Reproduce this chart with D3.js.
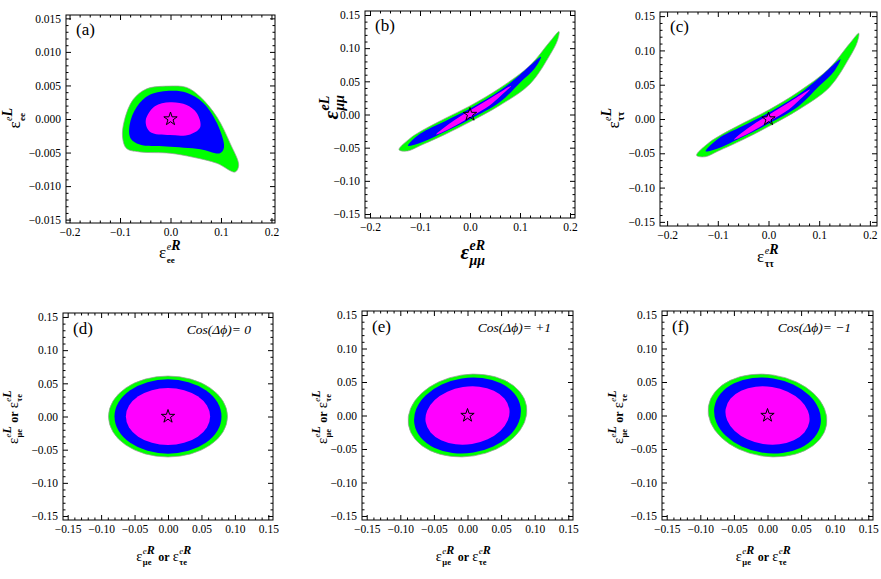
<!DOCTYPE html>
<html>
<head>
<meta charset="utf-8">
<script src="https://cdn.jsdelivr.net/npm/d3@7"></script>
<style>
  body { margin: 0; background: #fff; }
  svg { display: block; }
  text { font-family: "Liberation Serif", "Times New Roman", Times, serif; fill: #000; }
</style>
</head>
<body>
<svg id="chart" width="881" height="579"></svg>
<script>
// ---- tick values
const ticksTopX = [-0.2, -0.1, 0, 0.1, 0.2];
const ticksAy = [-0.015, -0.01, -0.005, 0, 0.005, 0.01, 0.015];
const ticksBCy = [-0.15, -0.1, -0.05, 0, 0.05, 0.1, 0.15];
const ticksBottom = [-0.15, -0.1, -0.05, 0, 0.05, 0.1, 0.15];

// ---- contour outlines (eR, eL) for the diagonal couplings
const aGreen = [[-0.004, 0.0049], [-0.047, 0.0045], [-0.074, 0.0029], [-0.091, -0.0001], [-0.095, -0.0027],
  [-0.087, -0.0044], [-0.061, -0.0049], [-0.001, -0.0051], [0.045, -0.0057], [0.092, -0.0066],
  [0.128, -0.0079], [0.135, -0.0069], [0.118, -0.0036], [0.092, 0.0003], [0.059, 0.0033], [0.032, 0.0047]];
const aBlue = [[0.002, 0.0042], [-0.041, 0.0036], [-0.067, 0.0018], [-0.081, -0.0009], [-0.079, -0.0029],
  [-0.061, -0.0038], [-0.008, -0.0041], [0.059, -0.0045], [0.098, -0.0051], [0.106, -0.0042],
  [0.092, -0.0006], [0.065, 0.0024], [0.032, 0.0039]];
const aMagenta = [[-0.001, 0.0025], [-0.031, 0.0019], [-0.049, -0.0002], [-0.041, -0.0019], [-0.001, -0.0024],
  [0.039, -0.0023], [0.059, -0.0012], [0.052, 0.0009], [0.032, 0.0021]];

// (b) and (c) look the same in the picture
const bGreen = [[-0.142, -0.053], [-0.12, -0.036], [-0.10, -0.026], [-0.05, -0.006], [0, 0.013], [0.06, 0.040],
  [0.12, 0.074], [0.16, 0.110], [0.178, 0.125], [0.175, 0.112], [0.16, 0.090], [0.12, 0.046],
  [0.06, 0.014], [0, -0.011], [-0.05, -0.030], [-0.10, -0.047], [-0.125, -0.055]];
const bBlue = [[-0.124, -0.047], [-0.10, -0.029], [-0.05, -0.010], [0, 0.009], [0.06, 0.036], [0.10, 0.060],
  [0.142, 0.087], [0.13, 0.070], [0.10, 0.048], [0.06, 0.019], [0, -0.007], [-0.05, -0.026], [-0.10, -0.043]];
const bMagenta = [[-0.068, -0.030], [-0.04, -0.013], [0, 0.006], [0.04, 0.024], [0.082, 0.043],
  [0.06, 0.027], [0.04, 0.014], [0, -0.004], [-0.04, -0.021]];

// ---- off-diagonal couplings: ellipse semi-axes (eR, eL) and tilt
const ellipseRx = [0.089, 0.080, 0.063];
const ellipseRy = [0.061, 0.056, 0.043];
const ellipseTilt = [0, 9, -9];
const cosLabels = ["Cos(\u0394\u03d5)= 0", "Cos(\u0394\u03d5)= +1", "Cos(\u0394\u03d5)= \u22121"];
const panelNames = ["(a)", "(b)", "(c)", "(d)", "(e)", "(f)"];

const fills = ["#00ff00", "#0000ff", "#ff00ff"];

const svg = d3.select("#chart");

// label pieces: plain {t,size,bold,italic} or {sup:[...], sub:[...]}
function seg(t, size, bold, italic) { return { t, size, bold, italic }; }
const lblA_x = [seg("\u03b5", 17), { sup: [seg("e", 10, false, true), seg("R", 14, true, true)], sub: [seg("ee", 9, true)] }];
const lblA_y = [seg("\u03b5", 17), { sup: [seg("e", 10, false, true), seg("L", 14, true, true)], sub: [seg("ee", 9, true)] }];
const lblB_x = [seg("\u03b5", 21, true, true), { sup: [seg("eR", 14, true, true)], sub: [seg("\u03bc\u03bc", 14, true, true)] }];
const lblB_y = [seg("\u03b5", 21, true, true), { sup: [seg("eL", 14, true, true)], sub: [seg("\u03bc\u03bc", 14, true, true)] }];
const lblC_x = [seg("\u03b5", 17), { sup: [seg("e", 10, false, true), seg("R", 14, true, true)], sub: [seg("\u03c4\u03c4", 10, true)] }];
const lblC_y = [seg("\u03b5", 17), { sup: [seg("e", 10, false, true), seg("L", 14, true, true)], sub: [seg("\u03c4\u03c4", 10, true)] }];
function offLabel(s) {
  return [seg("\u03b5", 14.5), { sup: [seg("e", 9, false, true), seg(s, 12, true, true)], sub: [seg("\u03bce", 8.5, true)] },
    seg("\u00a0or\u00a0", 12, true),
    seg("\u03b5", 14.5), { sup: [seg("e", 9, false, true), seg(s, 12, true, true)], sub: [seg("\u03c4e", 8.5, true)] }];
}

function addRun(g, pieces, x, y) {
  const t = g.append("text").attr("x", x).attr("y", y);
  pieces.forEach(p => t.append("tspan")
    .attr("font-size", p.size)
    .attr("font-weight", p.bold ? "bold" : "normal")
    .attr("font-style", p.italic ? "italic" : "normal")
    .text(p.t));
  return t.node().getComputedTextLength();
}

function mathLabel(parent, spec, cx, cy, rotate) {
  const g = parent.append("g");
  const inner = g.append("g");
  let cur = 0, base = 14;
  spec.forEach(s => {
    if (s.sup) {
      const w1 = addRun(inner, s.sup, cur + 0.5, -0.45 * base);
      const w2 = addRun(inner, s.sub, cur + 0.5, 0.3 * base);
      cur += Math.max(w1, w2) + 1;
    } else {
      base = s.size;
      cur += addRun(inner, [s], cur, 0);
    }
  });
  inner.attr("transform", `translate(${-cur / 2},0)`);
  g.attr("transform", `translate(${cx},${cy})` + (rotate ? " rotate(-90)" : ""));
}

function drawFrame(g, x, y, xt, yt, fx, fy) {
  const [x0, x1] = x.range(), [y1, y0] = y.range();
  const minor = ts => d3.pairs(ts).flatMap(([a, b]) => [1, 2, 3, 4].map(k => a + (b - a) * k / 5));
  const axes = [
    [d3.axisBottom(x), `0,${y1}`, xt, fx], [d3.axisTop(x), `0,${y0}`, xt, null],
    [d3.axisLeft(y), `${x0},0`, yt, fy], [d3.axisRight(y), `${x1},0`, yt, null]
  ];
  axes.forEach(([ax, tr, ticks, fmt]) => {
    g.append("g").attr("transform", `translate(${tr})`)
      .call(ax.tickValues(minor(ticks)).tickSize(-2.5).tickFormat(""))
      .call(s => s.select(".domain").remove());
    g.append("g").attr("transform", `translate(${tr})`)
      .call(ax.tickValues(ticks).tickSize(-5).tickPadding(fmt ? 5 : 0).tickFormat(fmt ? d3.format(fmt) : ""))
      .call(s => s.select(".domain").remove())
      .call(s => s.selectAll("text").attr("font-size", 11.5));
  });
  g.append("rect").attr("x", x0).attr("y", y0).attr("width", x1 - x0).attr("height", y1 - y0)
    .attr("fill", "none").attr("stroke", "#000").attr("stroke-width", 1);
}

function star(g, x, y) {
  g.append("path").attr("d", d3.symbol(d3.symbolStar, 55)())
    .attr("transform", `translate(${x(0)},${y(0)})`)
    .attr("fill", "none").attr("stroke", "#000").attr("stroke-width", 1);
}

// ---- top row
const topPanels = [
  { frame: [66, 15, 275, 223], xd: [-0.207, 0.207], yd: [-0.0155, 0.0155], yt: ticksAy, fy: ".3f",
    shapes: [aGreen, aBlue, aMagenta], lx: lblA_x, ly: lblA_y, lxPos: [170, 258], lyPos: [20, 118] },
  { frame: [365, 11, 575, 218], xd: [-0.21, 0.21], yd: [-0.156, 0.156], yt: ticksBCy, fy: ".2f",
    shapes: [bGreen, bBlue, bMagenta], lx: lblB_x, ly: lblB_y, lxPos: [473, 259], lyPos: [338, 107] },
  { frame: [660, 12, 877, 226], xd: [-0.214, 0.214], yd: [-0.156, 0.156], yt: ticksBCy, fy: ".2f",
    shapes: [bGreen, bBlue, bMagenta], lx: lblC_x, ly: lblC_y, lxPos: [768, 262], lyPos: [619, 118] }
];

topPanels.forEach((p, i) => {
  const x = d3.scaleLinear().domain(p.xd).range([p.frame[0], p.frame[2]]);
  const y = d3.scaleLinear().domain(p.yd).range([p.frame[3], p.frame[1]]);
  const g = svg.append("g");
  const line = d3.line().x(d => x(d[0])).y(d => y(d[1])).curve(d3.curveCatmullRomClosed.alpha(0.5));
  p.shapes.forEach((s, k) => g.append("path").attr("d", line(s)).attr("fill", fills[k])
    .attr("stroke", k === 0 ? "#9a9a9a" : "none").attr("stroke-width", 0.7));
  star(g, x, y);
  drawFrame(g, x, y, ticksTopX, p.yt, ".1f", p.fy);
  g.append("text").attr("x", p.frame[0] + 10).attr("y", p.frame[1] + 20).attr("font-size", 17).text(panelNames[i]);
  mathLabel(svg, p.lx, p.lxPos[0], p.lxPos[1], false);
  mathLabel(svg, p.ly, p.lyPos[0], p.lyPos[1], true);
});

// ---- bottom row
const bottomFrames = [[63, 313, 273, 520], [362, 311, 573, 520], [662, 311, 873, 520]];
const bottomLy = [18, 327, 623];

bottomFrames.forEach((f, i) => {
  const x = d3.scaleLinear().domain([-0.157, 0.157]).range([f[0], f[2]]);
  const y = d3.scaleLinear().domain([-0.156, 0.156]).range([f[3], f[1]]);
  const g = svg.append("g");
  ellipseRx.forEach((rx, k) => {
    g.append("ellipse")
      .attr("cx", x(0)).attr("cy", y(0))
      .attr("rx", x(rx) - x(0)).attr("ry", y(0) - y(ellipseRy[k]))
      .attr("transform", `rotate(${-ellipseTilt[i]},${x(0)},${y(0)})`)
      .attr("fill", fills[k])
      .attr("stroke", k === 0 ? "#9a9a9a" : "none").attr("stroke-width", 0.7);
  });
  star(g, x, y);
  drawFrame(g, x, y, ticksBottom, ticksBottom, ".2f", ".2f");
  g.append("text").attr("x", f[0] + 10).attr("y", f[1] + 21).attr("font-size", 17).text(panelNames[i + 3]);
  g.append("text").attr("x", f[2] - 22).attr("y", f[1] + 21).attr("text-anchor", "end")
    .attr("font-size", 13.5).attr("font-style", "italic").text(cosLabels[i]);
  mathLabel(svg, offLabel("R"), (f[0] + f[2]) / 2 - 4, 561, false);
  mathLabel(svg, offLabel("L"), bottomLy[i], 417, true);
});
</script>
</body>
</html>
